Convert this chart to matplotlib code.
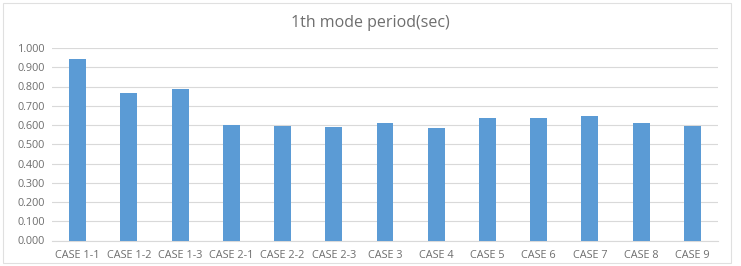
import matplotlib
matplotlib.use("Agg")
import matplotlib.pyplot as plt
from matplotlib.patches import Rectangle

categories = ["CASE 1-1", "CASE 1-2", "CASE 1-3", "CASE 2-1", "CASE 2-2", "CASE 2-3",
              "CASE 3", "CASE 4", "CASE 5", "CASE 6", "CASE 7", "CASE 8", "CASE 9"]
values = [0.945, 0.765, 0.787, 0.600, 0.594, 0.590, 0.608, 0.586, 0.634, 0.634, 0.645, 0.608, 0.594]
yticks = [0.0, 0.1, 0.2, 0.3, 0.4, 0.5, 0.6, 0.7, 0.8, 0.9, 1.0]
title = "1th mode period(sec)"

plt.rcParams['font.family'] = ['Open Sans', 'DejaVu Sans']
fig = plt.figure(figsize=(7.41, 2.66), dpi=100)
fig.patches.append(Rectangle((3/741, 3/266), 728/741, 260/266, transform=fig.transFigure,
                             fill=False, edgecolor="#E0E0E0", linewidth=0.8))
ax = fig.add_axes([52/741, (266-240.5)/266, 666/741, 192.5/266])
x = list(range(len(categories)))
ax.bar(x, values, width=0.33, color="#5B9BD5", zorder=3)
ax.set_xlim(-0.5, len(categories) - 0.5)
ax.set_ylim(0, 1.0)
ax.set_yticks(yticks)
ax.set_yticklabels([f"{v:.3f}" for v in yticks])
ax.set_xticks(x)
ax.set_xticklabels(categories)
ax.tick_params(axis="both", length=0, labelsize=7.8, colors="#6E6E6E")
ax.tick_params(axis="x", pad=7)
ax.tick_params(axis="y", pad=5)
ax.grid(axis="y", color="#D9D9D9", linewidth=0.8, zorder=0)
for s in ["top", "right", "left"]:
    ax.spines[s].set_visible(False)
ax.spines["bottom"].set_color("#D9D9D9")
ax.spines["bottom"].set_linewidth(0.8)
fig.text(0.5, 1 - 23/266, title, ha="center", va="center", fontsize=11.5, color="#6E6E6E")
fig.savefig("out.png", dpi=100, facecolor="white")
